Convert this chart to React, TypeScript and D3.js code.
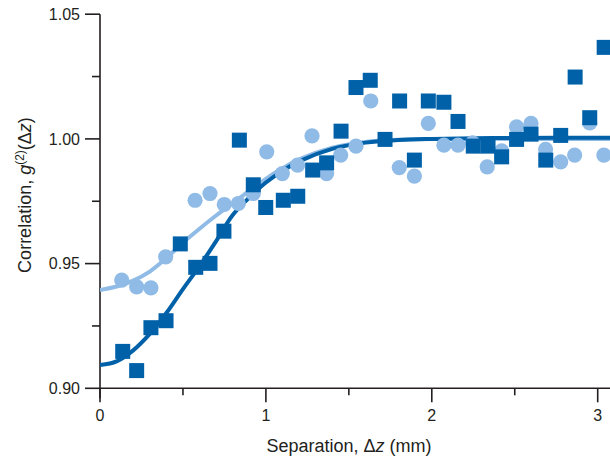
import React from 'react'
import * as d3 from 'd3'

// measured points, light blue circles
const circleX = [0.131, 0.221, 0.307, 0.396, 0.573, 0.663, 0.749, 0.834, 0.924, 1.005, 1.099, 1.191, 1.278, 1.366, 1.451, 1.543, 1.632, 1.804, 1.895, 1.979, 2.073, 2.158, 2.246, 2.334, 2.421, 2.511, 2.598, 2.686, 2.777, 2.861, 2.952, 3.037]
const circleY = [0.9434, 0.9407, 0.9403, 0.9527, 0.9754, 0.9781, 0.9737, 0.9741, 0.9781, 0.9948, 0.9861, 0.9895, 1.0012, 0.9861, 0.9935, 0.9971, 1.0152, 0.9885, 0.9851, 1.0062, 0.9975, 0.9975, 0.9984, 0.9888, 0.9952, 1.0048, 1.0062, 0.9958, 0.9908, 0.9935, 1.0064, 0.9935]

// measured points, dark blue squares
const squareX = [0.137, 0.221, 0.307, 0.398, 0.484, 0.577, 0.663, 0.747, 0.84, 0.924, 0.999, 1.105, 1.192, 1.282, 1.366, 1.453, 1.543, 1.629, 1.718, 1.806, 1.895, 1.979, 2.073, 2.158, 2.25, 2.339, 2.421, 2.511, 2.598, 2.687, 2.777, 2.864, 2.952, 3.039]
const squareY = [0.9148, 0.9071, 0.9243, 0.9271, 0.9579, 0.9485, 0.9501, 0.963, 0.9995, 0.9816, 0.9725, 0.9754, 0.977, 0.9875, 0.9904, 1.0031, 1.0206, 1.0235, 0.9998, 1.0152, 0.9915, 1.0152, 1.0147, 1.007, 0.9971, 0.9971, 0.9928, 0.9998, 1.0019, 0.9915, 1.0014, 1.0248, 1.0085, 1.0367]

// fitted curves
const fitX = [0, 0.1, 0.2, 0.3, 0.4, 0.5, 0.6, 0.7, 0.8, 0.9, 1.0, 1.1, 1.2, 1.4, 1.6, 1.8, 2.0, 2.5, 3.08]
const lightFit = [0.9394, 0.9408, 0.9432, 0.9468, 0.9522, 0.9584, 0.964, 0.9693, 0.9742, 0.9792, 0.984, 0.9882, 0.9918, 0.9965, 0.9988, 0.9997, 1.0, 1.0, 1.0]
const darkFit = [0.9093, 0.9108, 0.9152, 0.9218, 0.9302, 0.9398, 0.949, 0.959, 0.9695, 0.9765, 0.9825, 0.9872, 0.991, 0.996, 0.9985, 0.9996, 1.0, 1.0004, 1.0005]

const xMajor = [0, 1, 2, 3]
const xMinor = [0.5, 1.5, 2.5]
const yMajor = [0.9, 0.95, 1.0, 1.05]
const yMinor = [0.925, 0.975, 1.025]

const DARK = '#0061a9'
const LIGHT = '#8fbbe6'
const AXIS = '#231f20'
const FONT = 'Liberation Sans, Arial, sans-serif'

export default function App() {
  const x = d3.scaleLinear().domain([0, 3]).range([100, 597.7])
  const y = d3.scaleLinear().domain([0.9, 1.05]).range([388.3, 14.2])

  const line = d3.line<number>()
    .x((_, i) => x(fitX[i]))
    .curve(d3.curveCatmullRom.alpha(0.5))

  const lightPath = line.y((d) => y(d))(lightFit) || ''
  const darkPath = line.y((d) => y(d))(darkFit) || ''

  const y0 = y(0.9)
  const x0 = x(0)

  return (
    <svg width={610} height={460} style={{ position: 'absolute', left: 0, top: 0 }} fontFamily={FONT}>
      <defs>
        <clipPath id="plot">
          <rect x={x0} y={0} width={610 - x0} height={y0} />
        </clipPath>
      </defs>

      {/* axes */}
      <g stroke={AXIS} strokeWidth={1.6} fill="none">
        <line x1={x0} x2={610} y1={y0} y2={y0} />
        <line x1={x0} x2={x0} y1={y(1.05)} y2={y0 + 10} />
        {xMajor.map((t) => (
          <line key={'xM' + t} x1={x(t)} x2={x(t)} y1={y0} y2={y0 + 14} />
        ))}
        {xMinor.map((t) => (
          <line key={'xm' + t} x1={x(t)} x2={x(t)} y1={y0} y2={y0 + 7} />
        ))}
        {yMajor.map((t) => (
          <line key={'yM' + t} x1={x0 - 15} x2={x0} y1={y(t)} y2={y(t)} />
        ))}
        {yMinor.map((t) => (
          <line key={'ym' + t} x1={x0 - 8} x2={x0} y1={y(t)} y2={y(t)} />
        ))}
      </g>

      <g fontSize={16} fill={AXIS}>
        {xMajor.map((t) => (
          <text key={'xl' + t} x={x(t)} y={y0 + 33} textAnchor="middle">{t}</text>
        ))}
        {yMajor.map((t) => (
          <text key={'yl' + t} x={x0 - 20} y={y(t)} dy="0.36em" textAnchor="end">{t.toFixed(2)}</text>
        ))}
      </g>
      <g fontSize={18} fill={AXIS}>
        <text x={349} y={452} textAnchor="middle">
          Separation, Δ<tspan fontStyle="italic">z</tspan> (mm)
        </text>
        <text transform="translate(31, 195) rotate(-90)" textAnchor="middle">
          Correlation, <tspan fontStyle="italic">g</tspan>
          <tspan fontSize={12} dy={-7}>(2)</tspan>
          <tspan dy={7}>(Δ</tspan><tspan fontStyle="italic">z</tspan>)
        </text>
      </g>

      <g clipPath="url(#plot)">
        <path d={lightPath} fill="none" stroke={LIGHT} strokeWidth={4} />
        <path d={darkPath} fill="none" stroke={DARK} strokeWidth={4} />
        {circleX.map((cx, i) => (
          <circle key={'c' + i} cx={x(cx)} cy={y(circleY[i])} r={7.6} fill={LIGHT} />
        ))}
        {squareX.map((sx, i) => (
          <rect key={'s' + i} x={x(sx) - 7.5} y={y(squareY[i]) - 7.5} width={15} height={15} fill={DARK} />
        ))}
      </g>
    </svg>
  )
}
